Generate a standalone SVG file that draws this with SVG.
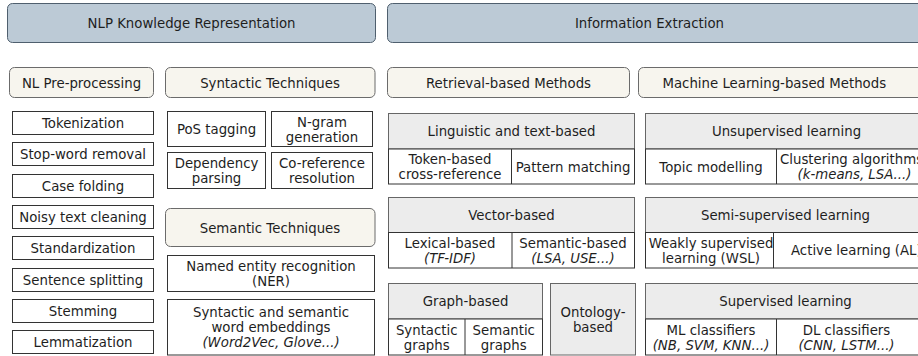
<svg xmlns="http://www.w3.org/2000/svg" width="918" height="356" viewBox="0 0 918 356">
<style>
text{font-family:"DejaVu Sans","Verdana",sans-serif;font-size:13.3px;fill:#1e1e1e;text-anchor:middle}
.it{font-style:italic}
.st{text-anchor:start}
.ban{fill:#bccad6;stroke:#4f5f6e;stroke-width:1}
.bei{fill:#f7f5ee;stroke:#6b6b6b;stroke-width:1}
.w{fill:#fff;stroke:#333;stroke-width:1}
.hd{fill:#ececec;stroke:#666;stroke-width:1}
.ln{stroke:#333;stroke-width:1;fill:none}
</style>
<rect width="918" height="356" fill="#fff"/>

<g id="nlp-knowledge-representation"><rect class="ban" x="7.5" y="3.5" width="368" height="39" rx="5"/><text x="191.5" y="28">NLP Knowledge Representation</text></g>
<g id="information-extraction"><rect class="ban" x="387.5" y="3.5" width="545" height="39" rx="5"/><text x="649.5" y="28">Information Extraction</text></g>

<g id="nl-preprocessing"><rect class="bei" x="9.5" y="67.5" width="144" height="30" rx="5"/><text x="81.5" y="87.5">NL Pre-processing</text></g>
<g id="syntactic-techniques"><rect class="bei" x="165.5" y="67.5" width="209.5" height="30" rx="5"/><text x="270" y="87.5">Syntactic Techniques</text></g>
<g id="retrieval-based-methods"><rect class="bei" x="387.5" y="67.5" width="242" height="30" rx="5"/><text x="508.5" y="87.5">Retrieval-based Methods</text></g>
<g id="ml-based-methods"><rect class="bei" x="638.5" y="67.5" width="300" height="30" rx="5"/><text x="774.3" y="87.5">Machine Learning-based Methods</text></g>
<g id="semantic-techniques"><rect class="bei" x="165.5" y="208.5" width="209.5" height="38" rx="5"/><text x="270" y="232.5">Semantic Techniques</text></g>

<g id="tokenization"><rect class="w" x="12.5" y="111.5" width="141" height="23"/><text x="83" y="128">Tokenization</text></g>
<g id="stop-word-removal"><rect class="w" x="12.5" y="142.5" width="141" height="23"/><text x="83" y="159">Stop-word removal</text></g>
<g id="case-folding"><rect class="w" x="12.5" y="174.5" width="141" height="23"/><text x="83" y="191">Case folding</text></g>
<g id="noisy-text-cleaning"><rect class="w" x="12.5" y="205.5" width="141" height="23"/><text x="83" y="222">Noisy text cleaning</text></g>
<g id="standardization"><rect class="w" x="12.5" y="236.5" width="141" height="23"/><text x="83" y="253">Standardization</text></g>
<g id="sentence-splitting"><rect class="w" x="12.5" y="268.5" width="141" height="23"/><text x="83" y="285">Sentence splitting</text></g>
<g id="stemming"><rect class="w" x="12.5" y="299.5" width="141" height="23"/><text x="83" y="316">Stemming</text></g>
<g id="lemmatization"><rect class="w" x="12.5" y="330.5" width="141" height="23"/><text x="83" y="347">Lemmatization</text></g>

<g id="pos-tagging"><rect class="w" x="167.5" y="111.5" width="98" height="35"/><text x="216.5" y="134">PoS tagging</text></g>
<g id="ngram-generation"><rect class="w" x="271.5" y="111.5" width="101" height="35"/><text x="322" y="126.5">N-gram</text><text x="322" y="141.5">generation</text></g>
<g id="dependency-parsing"><rect class="w" x="167.5" y="152.5" width="98" height="36"/><text x="216.5" y="168">Dependency</text><text x="216.5" y="183">parsing</text></g>
<g id="coreference-resolution"><rect class="w" x="271.5" y="152.5" width="101" height="36"/><text x="322" y="168">Co-reference</text><text x="322" y="183">resolution</text></g>

<g id="ner"><rect class="w" x="167.5" y="255.5" width="207" height="36"/><text x="271" y="271">Named entity recognition</text><text x="271" y="286">(NER)</text></g>
<g id="word-embeddings"><rect class="w" x="167.5" y="299.5" width="207" height="55.5"/><text x="271" y="316.5">Syntactic and semantic</text><text x="271" y="331.5">word embeddings</text><text class="it" x="271" y="346.5">(Word2Vec, Glove...)</text></g>

<g id="linguistic-text-based"><rect class="hd" x="388.5" y="113.5" width="246" height="35.5"/><rect class="w" x="388.5" y="149" width="246" height="35"/><line class="ln" x1="511.5" y1="149" x2="511.5" y2="184"/>
<text x="511.5" y="136">Linguistic and text-based</text><text x="450" y="164">Token-based</text><text x="450" y="179">cross-reference</text><text x="573" y="171.5">Pattern matching</text></g>

<g id="vector-based"><rect class="hd" x="388.5" y="197.5" width="246" height="35"/><rect class="w" x="388.5" y="232.5" width="246" height="35.5"/><line class="ln" x1="512" y1="232.5" x2="512" y2="268"/>
<text x="511.5" y="220">Vector-based</text><text x="450" y="247.5">Lexical-based</text><text class="it" x="450" y="262.5">(TF-IDF)</text><text x="573" y="247.5">Semantic-based</text><text class="it" x="573" y="262.5">(LSA, USE...)</text></g>

<g id="graph-based"><rect class="hd" x="388.5" y="283.5" width="154" height="35.5"/><rect class="w" x="388.5" y="319" width="154" height="36"/><line class="ln" x1="465" y1="319" x2="465" y2="355"/>
<text x="465.5" y="306">Graph-based</text><text x="426.75" y="334.5">Syntactic</text><text x="426.75" y="349.5">graphs</text><text x="503.75" y="334.5">Semantic</text><text x="503.75" y="349.5">graphs</text></g>

<g id="ontology-based"><rect class="hd" x="550.5" y="283.5" width="85" height="71.5"/><text x="593" y="316.5">Ontology-</text><text x="593" y="331.5">based</text></g>

<g id="unsupervised-learning"><rect class="hd" x="645.5" y="113.5" width="290" height="35.5"/><rect class="w" x="645.5" y="149" width="290" height="35"/><line class="ln" x1="776.5" y1="149" x2="776.5" y2="184"/>
<text x="786.5" y="136">Unsupervised learning</text><text x="711" y="171.5">Topic modelling</text><text class="st" x="780" y="164">Clustering algorithms</text><text class="it" x="854.5" y="179">(k-means, LSA...)</text></g>

<g id="semi-supervised-learning"><rect class="hd" x="645.5" y="197.5" width="290" height="35"/><rect class="w" x="645.5" y="232.5" width="290" height="35.5"/><line class="ln" x1="773.5" y1="232.5" x2="773.5" y2="268"/>
<text x="785.5" y="220">Semi-supervised learning</text><text x="711" y="247.5">Weakly supervised</text><text x="711" y="262.5">learning (WSL)</text><text class="st" x="791" y="255">Active learning (AL)</text></g>

<g id="supervised-learning"><rect class="hd" x="645.5" y="283.5" width="290" height="35.5"/><rect class="w" x="645.5" y="319" width="290" height="36"/><line class="ln" x1="776.5" y1="319" x2="776.5" y2="355"/>
<text x="785.5" y="306">Supervised learning</text><text x="711" y="334.5">ML classifiers</text><text class="it" x="711" y="349.5">(NB, SVM, KNN...)</text><text x="846.5" y="334.5">DL classifiers</text><text class="it" x="846.5" y="349.5">(CNN, LSTM...)</text></g>

<g id="connectors"></g>
</svg>
